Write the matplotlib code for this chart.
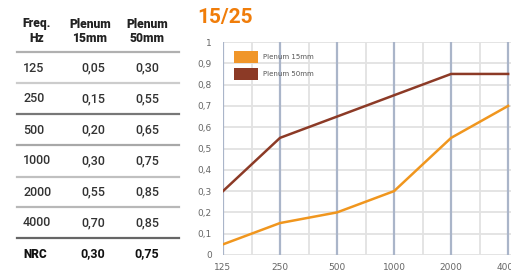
import matplotlib
matplotlib.use("Agg")
import matplotlib.pyplot as plt
from matplotlib.patches import Rectangle
from matplotlib.lines import Line2D

# ---- data ----
freqs = ["125", "250", "500", "1000", "2000", "4000"]
plenum15 = [0.05, 0.15, 0.20, 0.30, 0.55, 0.70]
plenum50 = [0.30, 0.55, 0.65, 0.75, 0.85, 0.85]
nrc_label = "NRC"
nrc15 = 0.30
nrc50 = 0.75
title = "15/25"
series_names = ["Plenum 15mm", "Plenum 50mm"]
header = [("Freq.", "Hz"), ("Plenum", "15mm"), ("Plenum", "50mm")]
yticks = [0, 0.1, 0.2, 0.3, 0.4, 0.5, 0.6, 0.7, 0.8, 0.9, 1]

def fmt(v):
    return f"{v:.2f}".replace(".", ",")

W, H = 511, 275
fig = plt.figure(figsize=(W / 100, H / 100), dpi=100)
fig.patch.set_facecolor("white")

fam = ["Roboto", "DejaVu Sans"]

# ---- table (pixel-space overlay) ----
tab = fig.add_axes([0, 0, 1, 1])
tab.set_xlim(0, W)
tab.set_ylim(H, 0)
tab.axis("off")

col_x = [37, 90, 147]
for (a, b), cx in zip(header, col_x):
    tab.text(cx, 24, a, ha="center", va="center", fontsize=8.7, fontweight="heavy",
             family=fam, color="#222222")
    tab.text(cx, 39, b, ha="center", va="center", fontsize=8.7, fontweight="heavy",
             family=fam, color="#222222")

line_y = [52, 83, 114, 145, 177, 207, 238]
line_c = ["#b0b0b0", "#cccccc", "#777777", "#a8a8a8", "#c0c0c0", "#b8b8b8", "#666666"]
for y, c in zip(line_y, line_c):
    tab.add_line(Line2D([17, 179], [y, y], color=c, lw=1.6))

row_y = [68, 99, 130, 161, 192, 223]
for f, a, b, y in zip(freqs, plenum15, plenum50, row_y):
    tab.text(23, y, f, ha="left", va="center", fontsize=9, family=fam, color="#333333",
             fontweight="medium")
    tab.text(93, y, fmt(a), ha="center", va="center", fontsize=9, family=fam, color="#333333",
             fontweight="medium")
    tab.text(147, y, fmt(b), ha="center", va="center", fontsize=9, family=fam, color="#333333",
             fontweight="medium")
tab.text(23, 254, nrc_label, ha="left", va="center", fontsize=8.5, family=fam,
         color="#111111", fontweight="heavy")
tab.text(93, 254, fmt(nrc15), ha="center", va="center", fontsize=9, family=fam,
         color="#111111", fontweight="bold")
tab.text(147, 254, fmt(nrc50), ha="center", va="center", fontsize=9, family=fam,
         color="#111111", fontweight="bold")

tab.text(197, 17, title, ha="left", va="center", fontsize=15, fontweight="bold",
         family=fam, color="#f07d0a")

# ---- chart ----
left, right, top, bottom = 223, 511, 42, 255
ax = fig.add_axes([left / W, 1 - bottom / H, (right - left) / W, (bottom - top) / H])
ax.set_facecolor("white")
x = list(range(len(freqs)))
ax.set_xlim(0, 5.05)
ax.set_ylim(0, 1)
for s in ax.spines.values():
    s.set_visible(False)

for yv in yticks:
    ax.axhline(yv, color="#e2e2e2", lw=1.3, zorder=1)
for i in range(len(freqs)):
    ax.axvline(i + 0.5, color="#e2e2e2", lw=1.3, zorder=1)
for i in range(len(freqs)):
    ax.axvline(i, color="#aab5c9", lw=1.6, zorder=1.5)

ax.plot(x, plenum15, color="#f0961e", lw=1.8, zorder=3, solid_joinstyle="miter")
ax.plot(x, plenum50, color="#8c3a26", lw=1.8, zorder=3, solid_joinstyle="miter")

ax.set_xticks(x)
ax.set_xticklabels(freqs)
ax.set_yticks(yticks)
ax.set_yticklabels([("%g" % v).replace(".", ",") for v in yticks])
ax.tick_params(length=0, labelsize=6.5, colors="#666666", pad=8)
ax.tick_params(axis="x", pad=6)

# legend (manual, pixel space)
tab.add_patch(Rectangle((234, 51), 24, 12, facecolor="#f0962a", edgecolor="none", zorder=5))
tab.add_patch(Rectangle((234, 68), 24, 12, facecolor="#8c3a26", edgecolor="none", zorder=5))
tab.text(263, 57, series_names[0], fontsize=5, va="center", ha="left", color="#555555", zorder=5)
tab.text(263, 74, series_names[1], fontsize=5, va="center", ha="left", color="#555555", zorder=5)
tab.set_zorder(5)

fig.savefig("out.png", dpi=100, facecolor="white")
